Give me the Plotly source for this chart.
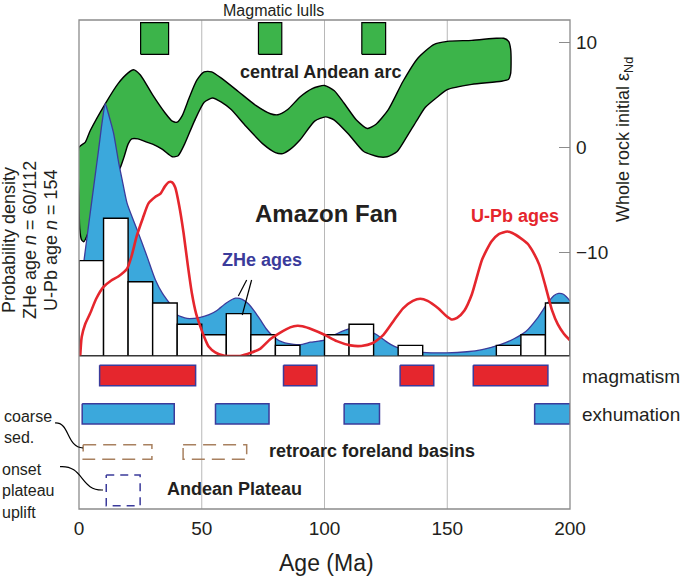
import plotly.graph_objects as go

# ---------------- data ----------------
# ZHe histogram (10 Ma bins)
bin_left = [0, 10, 20, 30, 40, 50, 60, 70, 80, 90, 100, 110, 120, 130, 140, 150, 160, 170, 180, 190]
zhe_counts = [9, 13, 7, 5, 3, 2, 4, 2, 1, 0, 2, 3, 0, 1, 0, 0, 0, 1, 2, 5]

# ZHe probability density (histogram-count units)
zhe_age = [0, 1, 2.2, 4, 6, 8, 9.5, 10.7, 11.8, 13, 14.1, 16.2, 17.6, 19.6, 23.7, 27.7, 31.1, 34, 36.5,
           39.9, 44, 49.4, 53, 56.2, 60, 63.7, 66.5, 69.1, 71.5, 73.9, 76.5, 79.3, 83, 87.5, 91, 94.3,
           100, 105, 110.6, 114, 118, 121.3, 124.9, 128.5, 133.8, 140, 149.8, 158, 164.2, 171.3, 177,
           182, 186.5, 190.9, 193.5, 195.4, 197.5, 200]
zhe_pdf = [5.0, 7.0, 9.3, 12.5, 16.0, 19.5, 22.2, 23.8, 23.0, 22.0, 21.0, 18.2, 16.6, 14.4, 11.9, 9.4, 7.2,
           5.9, 5.1, 3.9, 3.55, 3.65, 3.9, 4.3, 5.0, 5.45, 5.35, 4.9, 4.2, 3.4, 2.5, 1.8, 1.3, 1.1, 1.1,
           1.3, 1.5, 2.1, 2.6, 2.65, 2.4, 2.0, 1.4, 0.9, 0.55, 0.35, 0.3, 0.4, 0.6, 1.05, 1.6, 2.3, 3.5,
           5.0, 5.7, 5.9, 5.8, 5.2]

# U-Pb probability density (same units)
upb_age = [0.5, 1.1, 2.5, 4.5, 7, 9.9, 13, 16, 19.5, 21.5, 23.5, 26, 28.3, 31, 33.1, 35, 36.6, 37.8, 39.2,
           40.8, 42.6, 44.3, 46, 47.7, 49.4, 51, 52.8, 55.5, 58.9, 62, 65.7, 70, 73.9, 78, 82, 86, 89,
           91, 95, 100, 105, 110.6, 115, 119.5, 124, 128.4, 132, 136, 139, 142, 146.3, 149.5, 151.8,
           154, 157, 160, 164.2, 168, 171, 174.5, 176.5, 180, 182.7, 185, 187.5, 190, 192.7, 195,
           197.5, 199.9]
upb_pdf = [0.0, 1.8, 3.0, 4.0, 5.4, 6.5, 7.1, 7.5, 8.2, 9.5, 11.3, 13.0, 14.4, 15.0, 15.3, 16.0, 16.4,
           16.4, 15.9, 14.2, 11.6, 8.6, 5.9, 4.0, 2.8, 1.8, 0.9, 0.35, 0.05, 0.0, 0.0, 0.3, 0.7, 1.6,
           2.2, 2.7, 2.85, 2.8, 2.5, 2.0, 1.4, 1.0, 0.95, 1.2, 2.0, 3.4, 4.5, 5.2, 5.4, 5.2, 4.5, 3.8,
           3.45, 3.6, 4.3, 5.8, 9.1, 10.8, 11.5, 11.75, 11.6, 11.1, 10.6, 9.8, 8.6, 6.6, 4.3, 3.0,
           2.1, 1.5]

# central Andean arc whole-rock initial eNd envelope
arc_upper_age = [0, 2.6, 4.6, 10.8, 16, 20, 22.2, 25, 30, 35, 38, 40, 42, 45, 48, 51, 54, 58, 65, 72, 78,
                 81, 85, 90, 95, 100, 104, 108, 113, 117.5, 121, 126, 132, 138, 144.5, 150, 160, 170,
                 173, 175, 175.8, 176, 175.8, 175]
arc_upper_end = [0.0, 0.5, 1.6, 4.2, 6.1, 7.1, 7.4, 6.9, 5.0, 3.3, 2.5, 2.4, 3.0, 4.8, 6.4, 7.2, 7.2, 6.6,
                 5.3, 4.0, 3.2, 3.1, 3.6, 4.8, 5.6, 5.9, 5.4, 4.2, 2.6, 1.8, 2.2, 3.6, 6.3, 8.5, 9.8,
                 10.1, 10.2, 10.4, 10.4, 10.1, 9.4, 8.0, 7.0, 6.5]
arc_lower_age = [172, 160, 150, 146, 141, 137.7, 133, 129.6, 125.5, 122, 116, 110, 104, 100.4, 96, 90, 86,
                 83, 80, 75, 68, 62, 58, 54.4, 51, 47, 43, 40.4, 38, 34, 30, 27.6, 24, 21.5, 20, 18.5,
                 16.7, 12, 8, 4, 2, 1, 0.3, 0]
arc_lower_end = [6.3, 6.0, 5.5, 4.8, 3.8, 2.6, 0.8, -0.4, -0.9, -0.9, -0.4, 1.2, 2.6, 2.9, 2.5, 0.7, -0.2,
                 -0.6, -0.5, 0.3, 2.0, 3.6, 4.3, 4.7, 4.3, 2.5, 0.3, -0.8, -0.9, -0.2, 0.3, 0.5, 0.8, 0.8,
                 0.3, -0.8, -2.0, -4.0, -6.0, -8.0, -9.0, -8.8, -7.8, -5.0]

# intervals (Ma)
lulls = [(25.1, 36.5), (73.1, 82.6), (115.2, 124.9)]
magmatism = [(8.4, 47.5), (83.3, 96.9), (130.8, 144.5), (160.6, 191.0)]
exhumation = [(1.3, 38.8), (55.6, 77.4), (108.0, 122.4), (185.6, 200.0)]
foreland = [(1.7, 29.7), (42.4, 68.3)]
plateau = [(11.1, 24.9)]

x_ticks = [0, 50, 100, 150, 200]
end_ticks = [-10, 0, 10]
end_ticktext = ["\u221210", "0", "10"]

# ---------------- layout geometry ----------------
W, H = 685, 576
ML, MR, MT, MB = 79, 115, 20, 67
PW = W - ML - MR
PH = H - MT - MB
SPLIT = (H - MB - 356) / PH  # lower-panel top


def pp(px, py):
    return (px - ML) / PW, (H - MB - py) / PH


GREEN = "#3cb44a"
BLUE = "#3ba8dc"
NAVY = "#3b3b9b"
RED = "#e5262d"
BROWN = "#a8805f"
TXT = "#231f20"

fig = go.Figure()

# arc envelope (base y axis = eNd)
rx = arc_upper_age + arc_lower_age + [arc_upper_age[0]]
ry = arc_upper_end + arc_lower_end + [arc_upper_end[0]]
fig.add_trace(go.Scatter(x=rx, y=ry, mode="lines", fill="toself", fillcolor=GREEN,
                         line=dict(color="black", width=1.4, shape="spline", smoothing=0.6),
                         yaxis="y", hoverinfo="skip", showlegend=False))

# magmatic lull boxes
for a, b in lulls:
    fig.add_trace(go.Scatter(x=[a, b, b, a, a], y=[8.87, 8.87, 11.89, 11.89, 8.87], mode="lines",
                             fill="toself", fillcolor=GREEN, line=dict(color="black", width=1.2),
                             yaxis="y", hoverinfo="skip", showlegend=False))

# ZHe density
fig.add_trace(go.Scatter(x=zhe_age, y=zhe_pdf, mode="lines", fill="tozeroy", fillcolor=BLUE,
                         line=dict(color=NAVY, width=1.3, shape="spline", smoothing=0.6),
                         yaxis="y2", hoverinfo="skip", showlegend=False))

# histogram bars (drawn as closed outlines so they sit above the density fill)
for l, c in zip(bin_left, zhe_counts):
    if c > 0:
        fig.add_trace(go.Scatter(x=[l, l + 10, l + 10, l, l], y=[0, 0, c, c, 0], mode="lines",
                                 fill="toself", fillcolor="white",
                                 line=dict(color="black", width=1.4),
                                 yaxis="y2", hoverinfo="skip", showlegend=False))

# U-Pb density
fig.add_trace(go.Scatter(x=upb_age, y=upb_pdf, mode="lines",
                         line=dict(color=RED, width=2.6, shape="spline", smoothing=0.6),
                         yaxis="y2", hoverinfo="skip", showlegend=False))


def add_boxes(intervals, row, half, fill, line, dash=None):
    for a, b in intervals:
        fig.add_trace(go.Scatter(x=[a, b, b, a, a], y=[row - half, row - half, row + half, row + half, row - half],
                                 mode="lines", fill="toself" if fill else None,
                                 fillcolor=fill if fill else None,
                                 line=dict(color=line, width=1.5, dash=dash),
                                 yaxis="y3", hoverinfo="skip", showlegend=False))


add_boxes(magmatism, 0, 0.266, RED, NAVY)
add_boxes(exhumation, 1, 0.265, BLUE, NAVY)
add_boxes(foreland, 2, 0.19, None, BROWN, dash="13px,7px")
add_boxes(plateau, 3, 0.4, None, NAVY, dash="8px,6px")

shapes = []
for g in [50, 100, 150]:
    shapes.append(dict(type="line", xref="x", yref="paper", x0=g, x1=g, y0=0, y1=1,
                       line=dict(color="#b8b8b8", width=1), layer="below"))
# histogram baseline
shapes.append(dict(type="line", xref="paper", yref="paper", x0=0, x1=1, y0=SPLIT, y1=SPLIT,
                   line=dict(color="#333333", width=1.2), layer="above"))
# frame
shapes.append(dict(type="rect", xref="paper", yref="paper", x0=0, x1=1, y0=0, y1=1,
                   line=dict(color="#8c8c8c", width=1.3), layer="above"))
# ZHe leader lines (x in Ma, y in counts)
shapes.append(dict(type="line", xref="x", yref="y2", x0=68.3, y0=7.17, x1=64.9, y1=5.66,
                   line=dict(color="black", width=1.2)))
shapes.append(dict(type="line", xref="x", yref="y2", x0=70.3, y0=7.17, x1=66.5, y1=3.87,
                   line=dict(color="black", width=1.2)))


def curve(pts):
    p = [pp(*q) for q in pts]
    return "M {:.4f},{:.4f} C {:.4f},{:.4f} {:.4f},{:.4f} {:.4f},{:.4f}".format(
        p[0][0], p[0][1], p[1][0], p[1][1], p[2][0], p[2][1], p[3][0], p[3][1])


shapes.append(dict(type="path", xref="paper", yref="paper",
                   path=curve([(55, 423), (70, 422), (66, 447), (83, 448)]),
                   line=dict(color="black", width=1.2)))
shapes.append(dict(type="path", xref="paper", yref="paper",
                   path=curve([(60, 466.7), (84, 465), (80, 491), (103, 490)]),
                   line=dict(color="black", width=1.2)))

FONT = "Liberation Sans, Arial, sans-serif"
ann = []


def txt(text, px, py, size, color=TXT, bold=False, xanchor="center", angle=0):
    x, y = pp(px, py)
    t = "<b>%s</b>" % text if bold else text
    ann.append(dict(text=t, x=x, y=y, xref="paper", yref="paper", showarrow=False,
                    xanchor=xanchor, yanchor="middle", textangle=angle,
                    font=dict(family=FONT, size=size, color=color)))


txt("Magmatic lulls", 273, 10, 16)
txt("central Andean arc", 320, 72, 18, bold=True)
txt("Amazon Fan", 326, 213, 24, bold=True)
txt("U-Pb ages", 514.5, 216, 18, color=RED, bold=True)
txt("ZHe ages", 262, 260, 18, color=NAVY, bold=True)
txt("magmatism", 580, 376, 19, xanchor="left")
txt("exhumation", 580, 414, 19, xanchor="left")
txt("retroarc foreland basins", 372, 451, 18, bold=True)
txt("Andean Plateau", 234, 489, 18, bold=True)
txt("coarse", 2, 416, 16, xanchor="left")
txt("sed.", 2, 437, 16, xanchor="left")
txt("onset", 0, 469, 16, xanchor="left")
txt("plateau", 0, 490, 16, xanchor="left")
txt("uplift", 0, 512, 16, xanchor="left")
txt("Probability density", 9, 240, 18, angle=-90)
txt("ZHe age <i>n</i> = 60/112", 30, 240, 18, angle=-90)
txt("U-Pb age <i>n</i> = 154", 51, 240, 18, angle=-90)
txt("Whole rock initial \u03b5<sub>Nd</sub>", 624, 140, 18, angle=-90)
txt("Age (Ma)", 326, 563, 23)

fig.update_layout(
    width=W, height=H, margin=dict(l=ML, r=MR, t=MT, b=MB, pad=0),
    paper_bgcolor="white", plot_bgcolor="white", showlegend=False,
    font=dict(family=FONT, color=TXT),
    xaxis=dict(range=[0, 200], anchor="y3", tickvals=x_ticks, ticks="", showgrid=False,
               zeroline=False, showline=False, tickfont=dict(size=19, color=TXT),
               ticklabelstandoff=6),
    yaxis=dict(domain=[SPLIT, 1], anchor="x", side="right", range=[-19.9, 12.14],
               tickvals=end_ticks, ticktext=end_ticktext, ticks="inside", ticklen=11,
               tickcolor="#8c8c8c", tickwidth=1.2, showgrid=False, zeroline=False, showline=False,
               tickfont=dict(size=19, color=TXT), ticklabelstandoff=5),
    yaxis2=dict(overlaying="y", side="left", anchor="x", range=[0, 31.7], showticklabels=False,
                ticks="", showgrid=False, zeroline=False, showline=False),
    yaxis3=dict(domain=[0, SPLIT], anchor="x", range=[3.486, -0.509], visible=False,
                showgrid=False, zeroline=False),
    shapes=shapes, annotations=ann,
)

fig.write_html("out.html", config={"displayModeBar": False},
               post_script="document.body.style.margin='0';")
